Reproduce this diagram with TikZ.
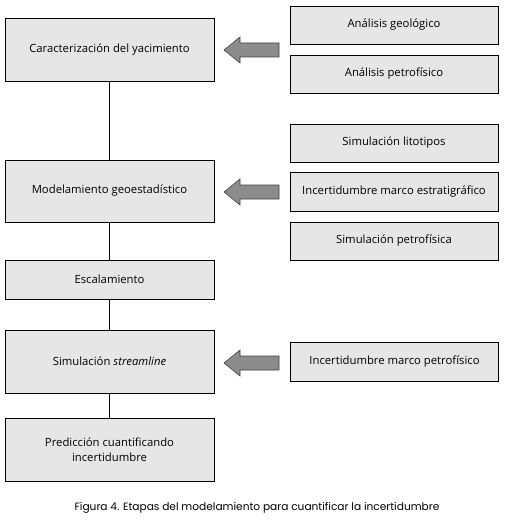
\documentclass[tikz,border=0pt]{standalone}
\usepackage{fontspec}
\setmainfont{Open Sans}
\newfontfamily\capfont{Poppins}
\definecolor{boxgray}{HTML}{E6E6E6}
\definecolor{arrowgray}{HTML}{8C8C8C}
\begin{document}
\begin{tikzpicture}[x=1pt,y=-1pt,
  stage/.style={draw=black, line width=0.8pt, fill=boxgray, minimum width=209pt, inner sep=0pt, align=center, font=\fontsize{11.3}{15}\selectfont},
  side/.style={draw=black, line width=0.8pt, fill=boxgray, minimum width=208pt, minimum height=38pt, inner sep=0pt, align=center, font=\fontsize{11.3}{15}\selectfont},
  link/.style={draw=black, line width=0.8pt},
  bigarrow/.style={draw=black!75, line width=0.6pt, fill=arrowgray}]
\useasboundingbox (0,0) rectangle (504,524);
% left stages
\node[stage, minimum height=63pt] (car) at (109.5,49.5) {Caracterización del yacimiento};
\node[stage, minimum height=62pt] (mod) at (109.5,191) {Modelamiento geoestadístico};
\node[stage, minimum height=39pt] (esc) at (109.5,279.5) {Escalamiento};
\node[stage, minimum height=63pt] (sim) at (109.5,361.5) {Simulación \textit{streamline}};
\node[stage, minimum height=63pt] (pre) at (109.5,449.5) {Predicción cuantificando\\incertidumbre};
% right boxes
\node[side] (geo) at (394,25) {Análisis geológico};
\node[side] (pet) at (394,74) {Análisis petrofísico};
\node[side] (lit) at (394,143) {Simulación litotipos};
\node[side, minimum height=39pt] (est) at (394,191.5) {Incertidumbre marco estratigráfico};
\node[side] (spe) at (394,241) {Simulación petrofísica};
\node[side, minimum height=39pt] (mpe) at (394.5,361.5) {Incertidumbre marco petrofísico};
% connectors
\draw[link] (car.south) -- (mod.north);
\draw[link] (mod.south) -- (esc.north);
\draw[link] (esc.south) -- (sim.north);
\draw[link] (sim.south) -- (pre.north);
% block arrows
\foreach \name/\yy in {a1/50, a2/192, a3/363}{
  \coordinate (\name) at (224,\yy);
  \draw[bigarrow] (\name) -- ++(16,-13) -- ++(0,6) -- ++(39,0) -- ++(0,14) -- ++(-39,0) -- ++(0,6) -- cycle;
}
% caption
\node[font=\capfont\fontsize{10.6}{12}\selectfont] (cap) at (257,508) {Figura 4. Etapas del modelamiento para cuantificar la incertidumbre};
\end{tikzpicture}
\end{document}
